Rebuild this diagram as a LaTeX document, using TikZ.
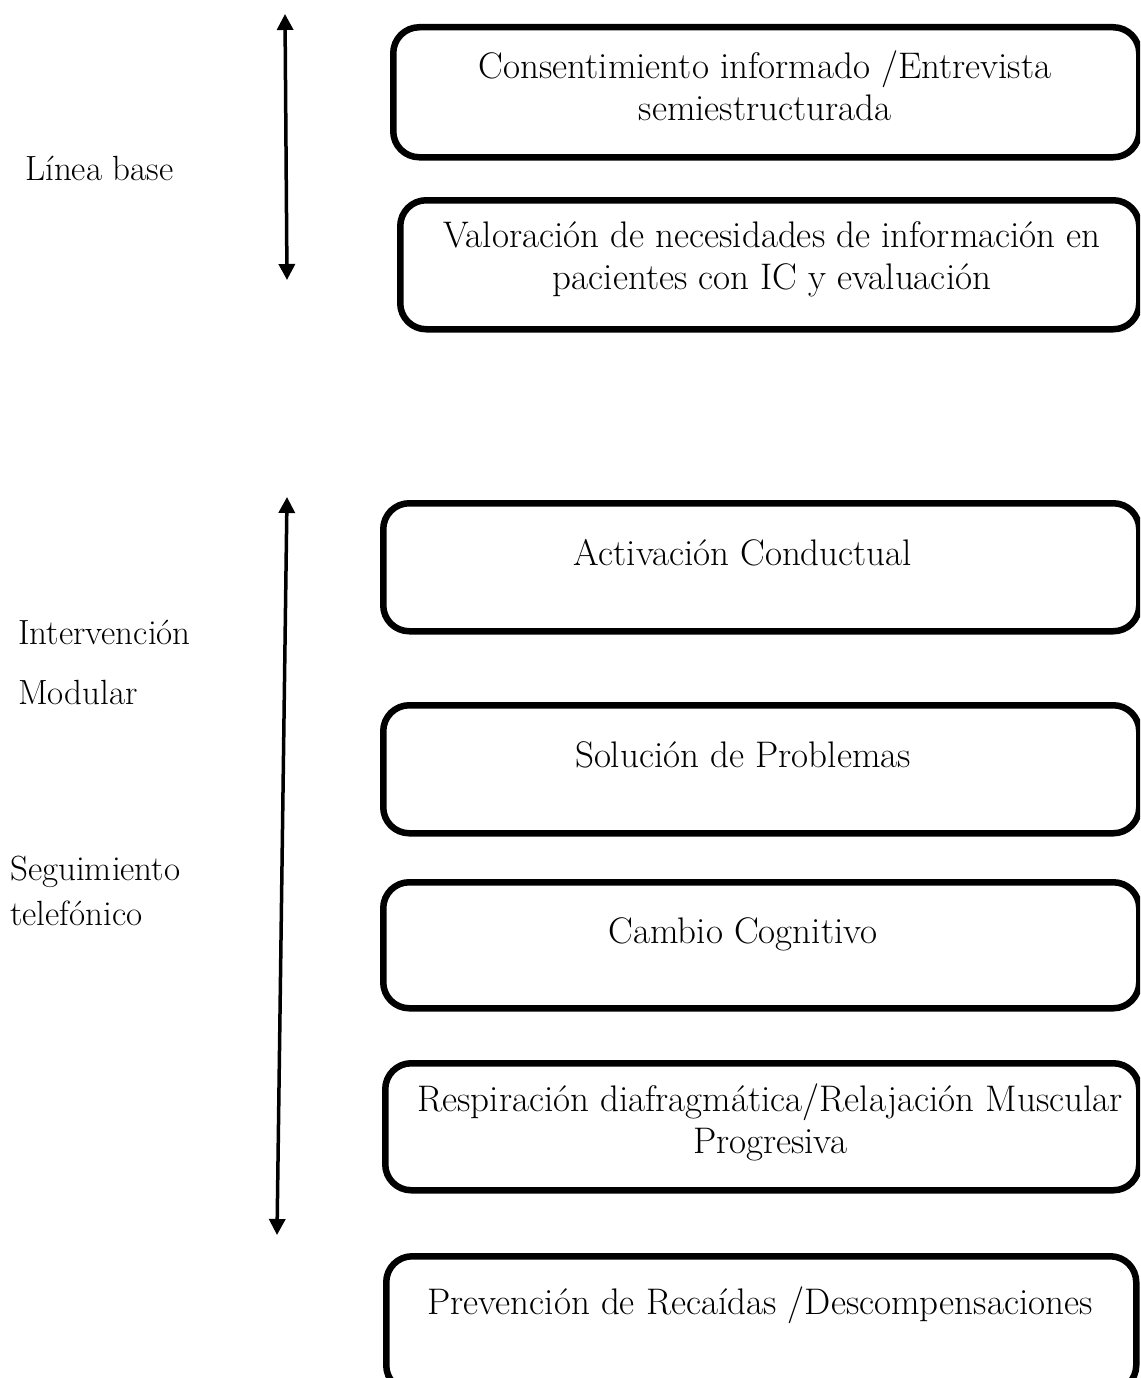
\documentclass[tikz,border=0pt]{standalone}
\usetikzlibrary{arrows.meta}
\begin{document}
\begin{tikzpicture}[x=1pt,y=-1pt,
  boxstyle/.style={draw, line width=6.5pt, rounded corners=26pt, rectangle, anchor=north west, inner sep=0pt},
  boxtext/.style={align=center, inner sep=0pt, font=\fontsize{37}{42}\selectfont},
  sidetext/.style={anchor=west, inner sep=0pt, font=\fontsize{35}{40}\selectfont},
  arr/.style={line width=3.5pt, {Triangle[length=16pt,width=16pt]}-{Triangle[length=16pt,width=16pt]}}]
\useasboundingbox (0,0) rectangle (1140,1378);
\begin{scope}
\clip (0,0) rectangle (1140,1378);
% boxes
\node[boxstyle, minimum width=746pt, minimum height=130pt] (b1) at (390,24) {};
\node[boxstyle, minimum width=739pt, minimum height=129pt] (b2) at (397,197) {};
\node[boxstyle, minimum width=756pt, minimum height=128pt] (b3) at (380,500) {};
\node[boxstyle, minimum width=756pt, minimum height=128pt] (b4) at (380,702) {};
\node[boxstyle, minimum width=756pt, minimum height=126pt] (b5) at (380,879) {};
\node[boxstyle, minimum width=754pt, minimum height=127pt] (b6) at (382,1060) {};
\node[boxstyle, minimum width=750pt, minimum height=135pt] (b7) at (383,1253) {};
\end{scope}
% box texts
\node[boxtext] (t1) at (765,86) {Consentimiento informado /Entrevista\\semiestructurada};
\node[boxtext] (t2) at (772,259) {Valoración de necesidades de información en\\pacientes con IC y evaluación};
\node[boxtext] (t3) at (743,553) {Activación Conductual};
\node[boxtext] (t4) at (743,755) {Solución de Problemas};
\node[boxtext] (t5) at (743,934) {Cambio Cognitivo};
\node[boxtext] (t6) at (770,1122) {Respiración diafragmática/Relajación Muscular\\Progresiva};
\node[boxtext] (t7) at (760,1305) {Prevención de Recaídas /Descompensaciones};
% side labels
\node[sidetext] (l1) at (25,168) {Línea base};
\node[sidetext] (l2) at (18,632) {Intervención};
\node[sidetext] (l3) at (18,692) {Modular};
\node[sidetext] (l4) at (10,872) {Seguimiento};
\node[sidetext] (l5) at (10,913) {telefónico};
% arrows
\coordinate (a1s) at (285,14);
\coordinate (a1e) at (287,280);
\coordinate (a2s) at (287,497);
\coordinate (a2e) at (277,1235);
\draw[arr] (a1s) -- (a1e);
\draw[arr] (a2s) -- (a2e);
\end{tikzpicture}
\end{document}
